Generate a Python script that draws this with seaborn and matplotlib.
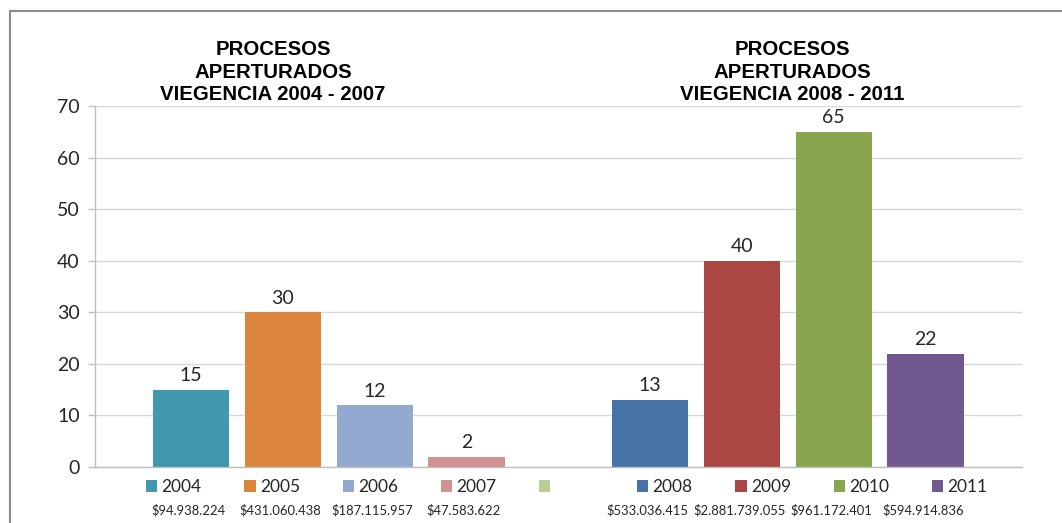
import numpy as np
import pandas as pd
import matplotlib
matplotlib.use("Agg")
import matplotlib.pyplot as plt
from matplotlib.patches import Patch, Rectangle
from matplotlib.transforms import blended_transform_factory
import seaborn as sns

# Procesos aperturados por año (el hueco separa las dos vigencias)
years = ["2004", "2005", "2006", "2007", "", "2008", "2009", "2010", "2011"]
procesos = [15, 30, 12, 2, 0, 13, 40, 65, 22]
montos = ["$94.938.224", "$431.060.438", "$187.115.957", "$47.583.622", "",
          "$533.036.415", "$2.881.739.055", "$961.172.401", "$594.914.836"]
colores = ["#4198AF", "#DB843D", "#93A9D0", "#D09392", "#BACD96",
           "#4572A7", "#AA4643", "#89A54E", "#71588F"]
titulo_1 = "PROCESOS\nAPERTURADOS\nVIEGENCIA 2004 - 2007"
titulo_2 = "PROCESOS\nAPERTURADOS\nVIEGENCIA 2008 - 2011"

sns.set_theme(style="white")
plt.rcParams["font.family"] = ["Lato", "DejaVu Sans"]

W, H = 1062, 523
fig = plt.figure(figsize=(W / 100, H / 100), dpi=100)
ax = fig.add_axes([95 / W, 1 - 467 / H, (1022 - 95) / W, (467 - 106) / H])

df = pd.DataFrame({"anio": years, "procesos": procesos})
sns.barplot(data=df, x="anio", y="procesos", hue="anio", order=years,
            hue_order=years, palette=colores, width=0.83, saturation=1,
            legend=False, ax=ax, edgecolor="none")

ax.set_xlim(-1.046, 9.05)
ax.set_ylim(0, 70)
ax.set_yticks(np.arange(0, 71, 10))
ax.yaxis.grid(True, color="#d9d9d9", linewidth=1)
ax.set_axisbelow(True)
ax.set_xticks([])
ax.set_xlabel("")
ax.set_ylabel("")
for s in ["top", "right"]:
    ax.spines[s].set_visible(False)
for s in ["left", "bottom"]:
    ax.spines[s].set_color("#bfbfbf")
    ax.spines[s].set_linewidth(1)
ax.tick_params(axis="y", length=5, width=1, color="#bfbfbf", labelsize=14,
               labelcolor="#262626", pad=6, left=True)

# Etiquetas de valor sobre cada barra
for bars in ax.containers:
    labels = []
    for rect in bars:
        h = rect.get_height()
        labels.append("" if h == 0 else f"{h:.0f}")
    ax.bar_label(bars, labels=labels, padding=4, fontsize=14, color="#262626")

# Montos bajo cada año
trans = blended_transform_factory(ax.transData, ax.transAxes)
for i, m in enumerate(montos):
    ax.text(i - 0.03, -0.12, m, transform=trans, ha="center", va="center",
            fontsize=9.4, color="#262626")

# Leyendas de cada vigencia
handles = [Patch(facecolor=c, edgecolor="none") for c in colores]
leg_kw = dict(frameon=False, handlelength=0.65, handleheight=0.65,
              handletextpad=0.25, borderpad=0, borderaxespad=0,
              fontsize=12.5, labelcolor="#262626", loc="center left")
leg1 = fig.legend(handles[:5], years[:5], ncol=5, columnspacing=2.45,
                  bbox_to_anchor=(146 / W, 1 - 487 / H), **leg_kw)
leg2 = fig.legend(handles[5:], years[5:], ncol=4, columnspacing=2.45,
                  bbox_to_anchor=(637 / W, 1 - 487 / H), **leg_kw)

# Títulos de cada vigencia
tkw = dict(ha="center", va="center", fontsize=14.7, fontweight="bold",
           family=["Liberation Sans", "DejaVu Sans"], linespacing=1.25,
           multialignment="center", color="#000000")
fig.text(273 / W, 1 - 72 / H, titulo_1, **tkw)
fig.text(792 / W, 1 - 72 / H, titulo_2, **tkw)

# Marco del gráfico
fig.add_artist(Rectangle((10 / W, -0.1), 1.2, 1.1 - 11 / H, transform=fig.transFigure,
                         fill=False, edgecolor="#8c8c8c", linewidth=1.5))

fig.savefig("out.png", dpi=100, facecolor="white")
